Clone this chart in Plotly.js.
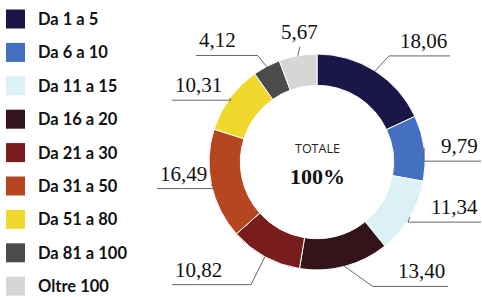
<!DOCTYPE html>
<html>
<head>
<meta charset="utf-8">
<script src="https://cdn.plot.ly/plotly-3.0.1.min.js"></script>
<style>html,body{margin:0;padding:0;background:#fff}#chart{width:482px;height:297px}</style>
</head>
<body>
<div id="chart"></div>
<script>
// ---- data ----
var categories = ["Da 1 a 5","Da 6 a 10","Da 11 a 15","Da 16 a 20","Da 21 a 30","Da 31 a 50","Da 51 a 80","Da 81 a 100","Oltre 100"];
var values = [18.06, 9.79, 11.34, 13.40, 10.82, 16.49, 10.31, 4.12, 5.67];
var valueLabels = ["18,06","9,79","11,34","13,40","10,82","16,49","10,31","4,12","5,67"];
var centerTitle = "TOTALE";
var centerValue = "100%";

// ---- styles / layout ----
var colors = ["#1b1648","#4470c2","#dcf1f6","#33141a","#781c1e","#b5461f","#f1d82c","#4b4b4b","#d6d6d6"];
var W = 482, H = 297;
var cx = 317, cy = 162, R = 108, holeFrac = 0.71;
// label leader layout: elbow offset from ring anchor (dx,dy) and end x of underline
var leader = [
  {dx: 14, dy: -15, endX: 450},
  {dx: 0,  dy: 13,  endX: 481},
  {dx: -2, dy: 5,   endX: 481},
  {dx: 28, dy: 20,  endX: 448},
  {dx: -14,dy: 28,  endX: 172},
  {dx: 3,  dy: 4,   endX: 157},
  {dx: 1,  dy: 2,   endX: 172},
  {dx: -9, dy: -11, endX: 196},
  {dx: 2,  dy: -9,  endX: null}
];

function px(x){return x/W;}
function py(y){return 1-y/H;}

var total = values.reduce(function(a,b){return a+b;},0);
var shapes = [], annotations = [];
var cum = 0;
var labelFont = {family:'Liberation Serif, serif', size:21, color:'#111'};
for (var i=0;i<values.length;i++){
  var mid = (cum + values[i]/2)/total*2*Math.PI;
  cum += values[i];
  var ax = cx + R*Math.sin(mid), ay = cy - R*Math.cos(mid);
  var L = leader[i];
  var ex = ax + L.dx, ey = ay + L.dy;
  shapes.push({type:'line', xref:'paper', yref:'paper', x0:px(ax), y0:py(ay), x1:px(ex), y1:py(ey), line:{color:'#555', width:0.9}});
  if (L.endX !== null){
    shapes.push({type:'line', xref:'paper', yref:'paper', x0:px(ex), y0:py(ey), x1:px(L.endX), y1:py(ey), line:{color:'#555', width:0.9}});
    var right = L.endX > ex;
    annotations.push({xref:'paper', yref:'paper', x:px(L.endX + (right?-1:1)), y:py(ey-1), xanchor: right?'right':'left', yanchor:'bottom',
      text: valueLabels[i], showarrow:false, font:labelFont});
  } else {
    annotations.push({xref:'paper', yref:'paper', x:px(ex), y:py(ey-1), xanchor:'center', yanchor:'bottom',
      text: valueLabels[i], showarrow:false, font:labelFont});
  }
}

// custom legend
var legX = 6, legY0 = 19, legStep = 33.4, sq = 19;
for (var j=0;j<categories.length;j++){
  var yy = legY0 + j*legStep;
  shapes.push({type:'rect', xref:'paper', yref:'paper', x0:px(legX), x1:px(legX+sq), y0:py(yy-sq/2), y1:py(yy+sq/2),
    fillcolor: colors[j], line:{width:0}});
  annotations.push({xref:'paper', yref:'paper', x:px(36), y:py(yy), xanchor:'left', yanchor:'middle', text:categories[j],
    showarrow:false, font:{family:'Lato, sans-serif', size:16.5, color:'#111', weight:'bold'}});
}

// center texts
annotations.push({xref:'paper', yref:'paper', x:px(cx), y:py(148), xanchor:'center', yanchor:'middle', text:centerTitle,
  showarrow:false, font:{family:'Open Sans, sans-serif', size:12.5, color:'#222'}});
annotations.push({xref:'paper', yref:'paper', x:px(cx), y:py(176), xanchor:'center', yanchor:'middle', text:'<b>'+centerValue+'</b>',
  showarrow:false, font:{family:'Liberation Serif, serif', size:22, color:'#111'}});

var trace = {
  type:'pie', labels:categories, values:values, hole:holeFrac, sort:false, direction:'clockwise', rotation:0,
  marker:{colors:colors, line:{color:'#ffffff', width:1}},
  textinfo:'none', hoverinfo:'none', showlegend:false,
  domain:{x:[px(cx-R), px(cx+R)], y:[py(cy+R), py(cy-R)]}
};

Plotly.newPlot('chart', [trace], {
  width:W, height:H, margin:{l:0,r:0,t:0,b:0}, paper_bgcolor:'#fff', plot_bgcolor:'#fff',
  showlegend:false, shapes:shapes, annotations:annotations
}, {displayModeBar:false, staticPlot:true});
</script>
</body>
</html>
